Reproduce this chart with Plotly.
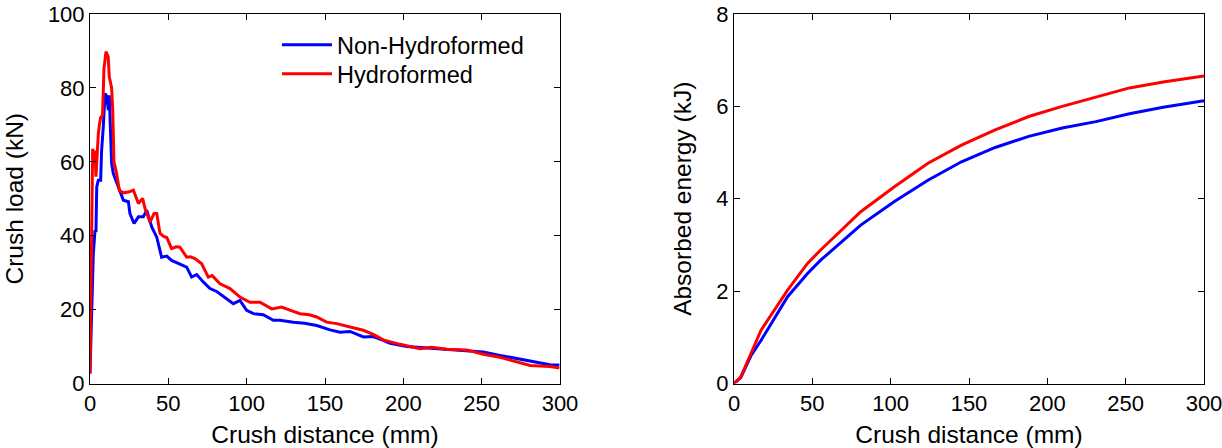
import plotly.graph_objects as go
from plotly.subplots import make_subplots

# ---- Data ----
# Crush load vs crush distance
dist_hydro = [0, 0.6, 1.2, 1.7, 2.5, 3.2, 3.8, 4.5, 5.3, 6.0, 6.8, 8.0, 8.9, 10.2, 11.0, 11.6,
              12.3, 13.8, 14.5, 14.9, 15.3, 17, 18.7, 21.3, 24.5, 27.7, 29, 30.9, 33.6, 35.1,
              38.3, 40.9, 42.6, 44.7, 47, 49, 52.1, 55, 57.4, 61.7, 64, 67, 71.3, 75.5, 78,
              83, 89.4, 95.7, 102, 108.5, 116, 122.3, 128, 134, 140, 144.7, 151, 157.5, 166,
              174.5, 180.8, 187.2, 197.9, 210.6, 218.1, 227.7, 240.4, 251, 261.7, 272.3,
              280.9, 293.6, 299.6]
load_hydro = [2.7, 30, 55, 63.5, 62, 63, 56, 62, 67.5, 70, 72, 72.5, 85, 89.8, 89, 88.5,
              83, 80, 74, 68.6, 60, 56.8, 52.3, 51.6, 51.8, 52.3, 51, 48.7, 50.1, 47.4,
              43.7, 46, 46, 40.6, 39.8, 39.5, 36.5, 37, 36.9, 34.2, 34.3, 33.8, 32.4, 28.8, 29.2,
              27, 25.7, 23.4, 22, 22, 20.2, 20.7, 19.8, 18.9, 18.6, 18, 16.6, 16.2, 15.3,
              14.4, 13.3, 11.8, 10.6, 9.4, 9.8, 9.3, 9.1, 7.9, 7.1, 6.0,
              4.9, 4.6, 4.2]

dist_nonhydro = [0, 1, 2.1, 3.2, 3.8, 4.3, 5.3, 6.8, 7.4, 8.5, 9.6, 10.6, 11.7, 12.3, 13.2,
                 13.8, 14.9, 18.1, 21.3, 24.5, 25.5, 28.1, 30.9, 34, 36.2, 39.4, 42.6, 45.7,
                 49, 52.1, 57.4, 61.7, 64.9, 68.1, 72.3, 76.6, 80.9, 87.2, 91.5, 95.7, 100,
                 104.3, 110.6, 117, 121.3, 129.8, 137, 144.7, 153.2, 159.6, 166, 174.5, 180.8,
                 187.2, 191.5, 202.1, 212.8, 227.7, 240.4, 251, 261.7, 272.3, 283, 293.6, 299.6]
load_nonhydro = [2.7, 20, 35, 41.5, 41, 53.2, 55, 55, 63, 69.5, 78.5, 77.8, 74, 78, 69.5,
                 59.5, 56.8, 53.2, 49.6, 49.2, 46, 43.3, 45.1, 45.1, 46.9, 42.4, 39.6, 34.2,
                 34.5, 33.3, 32.4, 31.5, 28.8, 29.5, 27.5, 25.7, 24.9, 23, 21.6, 22.5, 19.8,
                 18.9, 18.6, 17.1, 17.1, 16.6, 16.3, 15.7, 14.5, 13.9, 14.1, 12.6, 12.7,
                 11.7, 10.9, 10, 9.7, 9.3, 9, 8.5, 7.6, 6.7, 5.8, 5.1, 5.0]

# Absorbed energy vs crush distance
dist_energy = [0, 4.3, 10.8, 17.2, 34.2, 46.9, 55.3, 80.9, 102.4, 123.8, 145.2, 166.7,
               188.1, 209.5, 231, 252.4, 273.9, 295.3, 300]
energy_hydro = [0, 0.14, 0.65, 1.15, 2.02, 2.60, 2.89, 3.72, 4.26, 4.77, 5.16, 5.49,
                5.78, 6.00, 6.20, 6.40, 6.53, 6.65, 6.66]
energy_nonhydro = [0, 0.13, 0.60, 0.93, 1.88, 2.38, 2.67, 3.43, 3.94, 4.40, 4.80, 5.11,
                   5.35, 5.53, 5.67, 5.84, 5.98, 6.10, 6.12]

series_names = ["Non-Hydroformed", "Hydroformed"]
x_ticks = [0, 50, 100, 150, 200, 250, 300]
load_ticks = [0, 20, 40, 60, 80, 100]
energy_ticks = [0, 2, 4, 6, 8]

BLUE = "#0000FF"
RED = "#FF0000"
FONT = "Arial, Liberation Sans, sans-serif"

fig = make_subplots(rows=1, cols=2)

fig.add_trace(go.Scatter(x=dist_nonhydro, y=load_nonhydro, mode="lines", name=series_names[0],
                         line=dict(color=BLUE, width=3), legend="legend"), row=1, col=1)
fig.add_trace(go.Scatter(x=dist_hydro, y=load_hydro, mode="lines", name=series_names[1],
                         line=dict(color=RED, width=3), legend="legend2"), row=1, col=1)
fig.add_trace(go.Scatter(x=dist_energy, y=energy_nonhydro, mode="lines", name=series_names[0],
                         line=dict(color=BLUE, width=3), showlegend=False), row=1, col=2)
fig.add_trace(go.Scatter(x=dist_energy, y=energy_hydro, mode="lines", name=series_names[1],
                         line=dict(color=RED, width=3), showlegend=False), row=1, col=2)

W, H = 1222, 448
ydom = [1 - 383.5 / H, 1 - 14 / H]

axis_common = dict(showgrid=False, zeroline=False, showline=True, linecolor="black",
                   linewidth=1, mirror="allticks", ticks="inside", ticklen=6,
                   tickcolor="black", tickwidth=1, automargin=False,
                   ticklabeloverflow="allow",
                   tickfont=dict(family=FONT, size=22, color="black"),
                   title_font=dict(family=FONT, size=24.5, color="black"))

fig.update_xaxes(**axis_common, range=[0, 300], tickvals=x_ticks,
                 title_text="Crush distance (mm)", title_standoff=12)
fig.update_yaxes(**axis_common)
fig.update_xaxes(domain=[90 / W, 560 / W], row=1, col=1)
fig.update_xaxes(domain=[734 / W, 1204 / W], row=1, col=2)
fig.update_yaxes(domain=ydom, range=[0, 100], tickvals=load_ticks,
                 title_text="Crush load (kN)", title_standoff=17, row=1, col=1)
fig.update_yaxes(domain=ydom, range=[0, 8], tickvals=energy_ticks,
                 title_text="Absorbed energy (kJ)", title_standoff=17, row=1, col=2)

leg_common = dict(xanchor="left", yanchor="middle", bgcolor="rgba(0,0,0,0)",
                  borderwidth=0, font=dict(family=FONT, size=23.5, color="black"),
                  itemwidth=50)

fig.update_layout(
    width=W, height=H,
    margin=dict(l=0, r=0, t=0, b=0),
    paper_bgcolor="white", plot_bgcolor="white",
    font=dict(family=FONT, size=22, color="black"),
    showlegend=True,
    legend=dict(x=277 / W, y=1 - 45 / H, **leg_common),
    legend2=dict(x=277 / W, y=1 - 74 / H, **leg_common),
)

fig.write_html("out.html", config={"displayModeBar": False},
               post_script="document.body.style.margin='0';")
